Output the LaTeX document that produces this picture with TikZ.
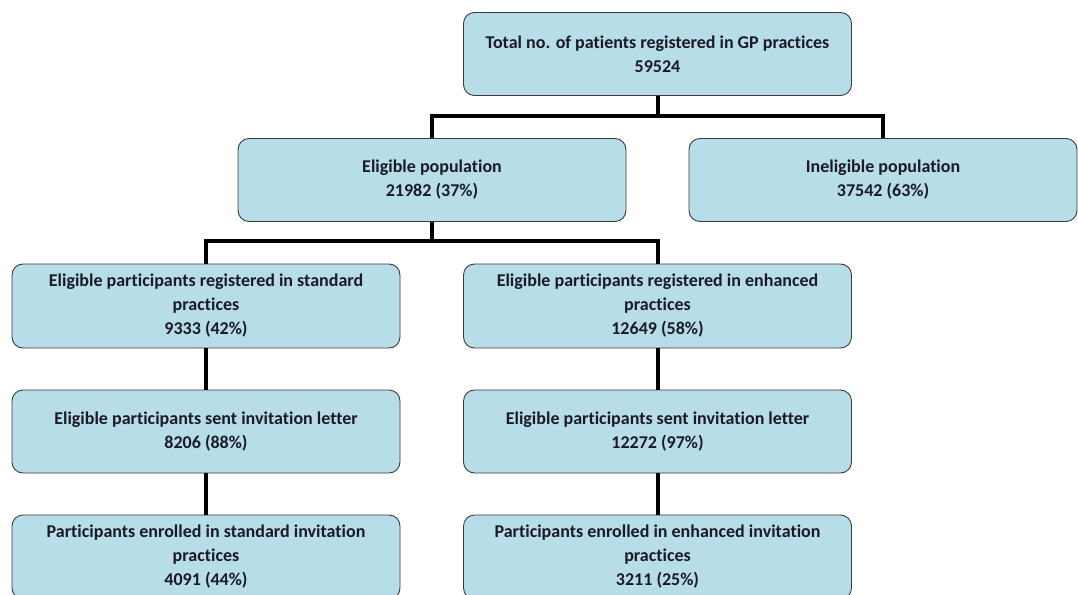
\documentclass[tikz,border=0pt]{standalone}
\usepackage{fontspec}
\setmainfont[Ligatures=NoCommon]{Carlito}
\definecolor{boxfill}{HTML}{B7DDE8}
\definecolor{boxline}{HTML}{3A3A3A}
\definecolor{txt}{HTML}{1A1A28}
\begin{document}
\begin{tikzpicture}[x=1pt,y=-1pt,
  flowbox/.style={draw=boxline, line width=0.9pt, fill=boxfill, rounded corners=11pt,
    minimum width=388pt, minimum height=83pt, align=center, inner sep=0pt,
    font=\fontsize{18}{24}\selectfont\bfseries, text=txt},
  conn/.style={line width=4pt, black, line join=miter}]
\useasboundingbox (0,0) rectangle (1078,594);

% boxes
\node[flowbox] (total) at (657.5,54) {Total no. of patients registered in GP practices\\59524};
\node[flowbox] (elig) at (432,180) {Eligible population\\21982 (37\%)};
\node[flowbox] (inel) at (883,180) {Ineligible population\\37542 (63\%)};
\node[flowbox, minimum height=84pt] (std) at (206,306) {Eligible participants registered in standard\\practices\\9333 (42\%)};
\node[flowbox, minimum height=84pt] (enh) at (657.5,306) {Eligible participants registered in enhanced\\practices\\12649 (58\%)};
\node[flowbox] (sentstd) at (206,431.5) {Eligible participants sent invitation letter\\8206 (88\%)};
\node[flowbox] (sentenh) at (657.5,431.5) {Eligible participants sent invitation letter\\12272 (97\%)};
\node[flowbox, minimum height=84pt] (enrstd) at (206,557) {Participants enrolled in standard invitation\\practices\\4091 (44\%)};
\node[flowbox, minimum height=84pt] (enrenh) at (657.5,557) {Participants enrolled in enhanced invitation\\practices\\3211 (25\%)};

% branch points
\coordinate (j1) at (657.5,116);
\coordinate (j2) at (432,241);

% connectors
\draw[conn] (total.south) -- (j1);
\draw[conn] (elig.north) |- (j1) -| (inel.north);
\draw[conn] (elig.south) -- (j2);
\draw[conn] (std.north) |- (j2) -| (enh.north);
\draw[conn] (std.south) -- (sentstd.north);
\draw[conn] (enh.south) -- (sentenh.north);
\draw[conn] (sentstd.south) -- (enrstd.north);
\draw[conn] (sentenh.south) -- (enrenh.north);
\end{tikzpicture}
\end{document}
